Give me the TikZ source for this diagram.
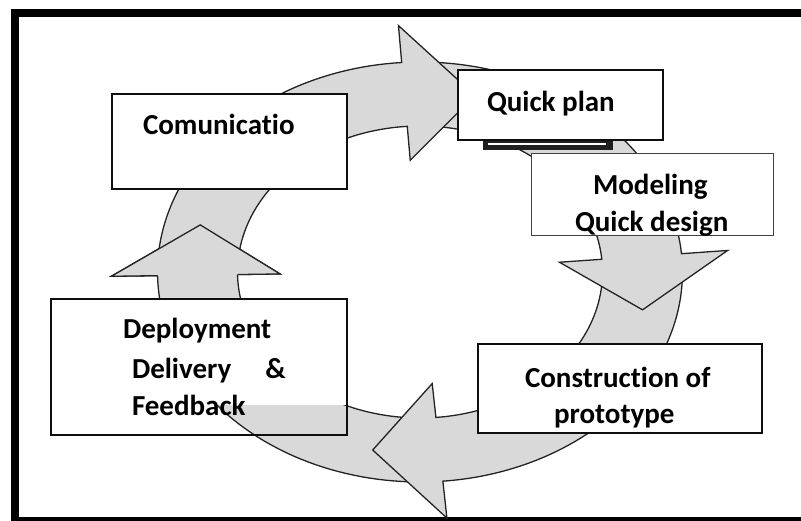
\documentclass[tikz,border=0pt]{standalone}
\usepackage{fontspec}
\setmainfont{Carlito}[Ligatures={NoCommon}]
\definecolor{ringgray}{RGB}{217,217,217}
\definecolor{edgegray}{RGB}{35,35,35}
\definecolor{boxline}{RGB}{15,15,15}
\begin{document}
\begin{tikzpicture}[x=1pt,y=-1pt,
  ring/.style={fill=ringgray, draw=edgegray, line width=1.3pt, line join=miter},
  ringedge/.style={draw=edgegray, line width=1.3pt, line join=miter},
  stagebox/.style={draw=boxline, fill=white, line width=1.5pt, inner sep=0pt, outer sep=0pt, anchor=north west},
  txt/.style={anchor=base west, inner sep=0pt, outer sep=0pt, font=\bfseries\fontsize{29}{36}\selectfont}
]
\useasboundingbox (0,0) rectangle (801,521);
\clip (0,0) rectangle (801,521);

% outer frame (runs off the right and bottom edges)
\draw[line width=8pt] (14.5,13.3) rectangle (815,520.7);

% the cycle of four curved arrows: tail / head base / tip angles
\begin{scope}[shift={(420,272)}, xscale=1.25, yscale=-1]
  \foreach \t/\b/\p in {-90/-179/-195, 0/-85/-102, 88/5/-12, 176/94/76} {
    \draw[ring] (\t:210) -- plot[domain=\t:\b, samples=50] (\x:210)
      -- (\b:247) -- (\p:182) -- (\b:112) -- (\b:146)
      -- plot[domain=\b:\t, samples=50] (\x:146) -- cycle;
  }
  % left arrow head lies over the tail of the top arrow
  \fill[ringgray] (-179:247) -- (-195:182) -- (-179:112) -- cycle;
  \draw[ringedge] (-179:146) -- (-179:112) -- (-195:182) -- (-179:247) -- (-179:210);
\end{scope}

% stage boxes
\node[stagebox, minimum width=235pt, minimum height=95pt] (comm) at (112,94) {};
\node[stagebox, minimum width=296pt, minimum height=136pt] (deploy) at (51,299) {};

% lower part of the deployment box shows the arrow passing through
\begin{scope}
  \clip (51,406) rectangle (347,435);
  \begin{scope}[shift={(420,272)}, xscale=1.25, yscale=-1]
    \draw[ring] (-90:210) -- plot[domain=-90:-179, samples=50] (\x:210)
      -- (-179:247) -- (-195:182) -- (-179:112) -- (-179:146)
      -- plot[domain=-179:-90, samples=50] (\x:146) -- cycle;
  \end{scope}
\end{scope}
\draw[draw=boxline, line width=1.5pt] (deploy.north west) rectangle (deploy.south east);

% stacked bar beneath the quick plan box
\fill[black!88] (483,140) rectangle (613,150);
\fill[white] (488,143.2) rectangle (606,144.9);

\node[stagebox, minimum width=205pt, minimum height=70pt] (plan) at (458,70) {};
\node[stagebox, draw=black!75, line width=1pt, minimum width=242pt, minimum height=82pt] (model) at (531,154) {};
\node[stagebox, minimum width=284pt, minimum height=89pt] (build) at (478,344) {};

% labels
\node[txt] (commtxt) at (143,135) {Comunicatio};
\node[txt] (plantxt) at (487,112) {Quick plan};
\node[txt] (modeltxt) at (593,195) {Modeling};
\node[txt] (designtxt) at (575,232) {Quick design};
\node[txt] (buildtxt) at (525,388) {Construction of};
\node[txt] (prototxt) at (554,424) {prototype};
\node[txt] (deptxt) at (123,339) {Deployment};
\node[txt] (delivtxt) at (132,378) {Delivery\hspace{34pt}\&};
\node[txt] (feedtxt) at (132,416) {Feedback};
\end{tikzpicture}
\end{document}
